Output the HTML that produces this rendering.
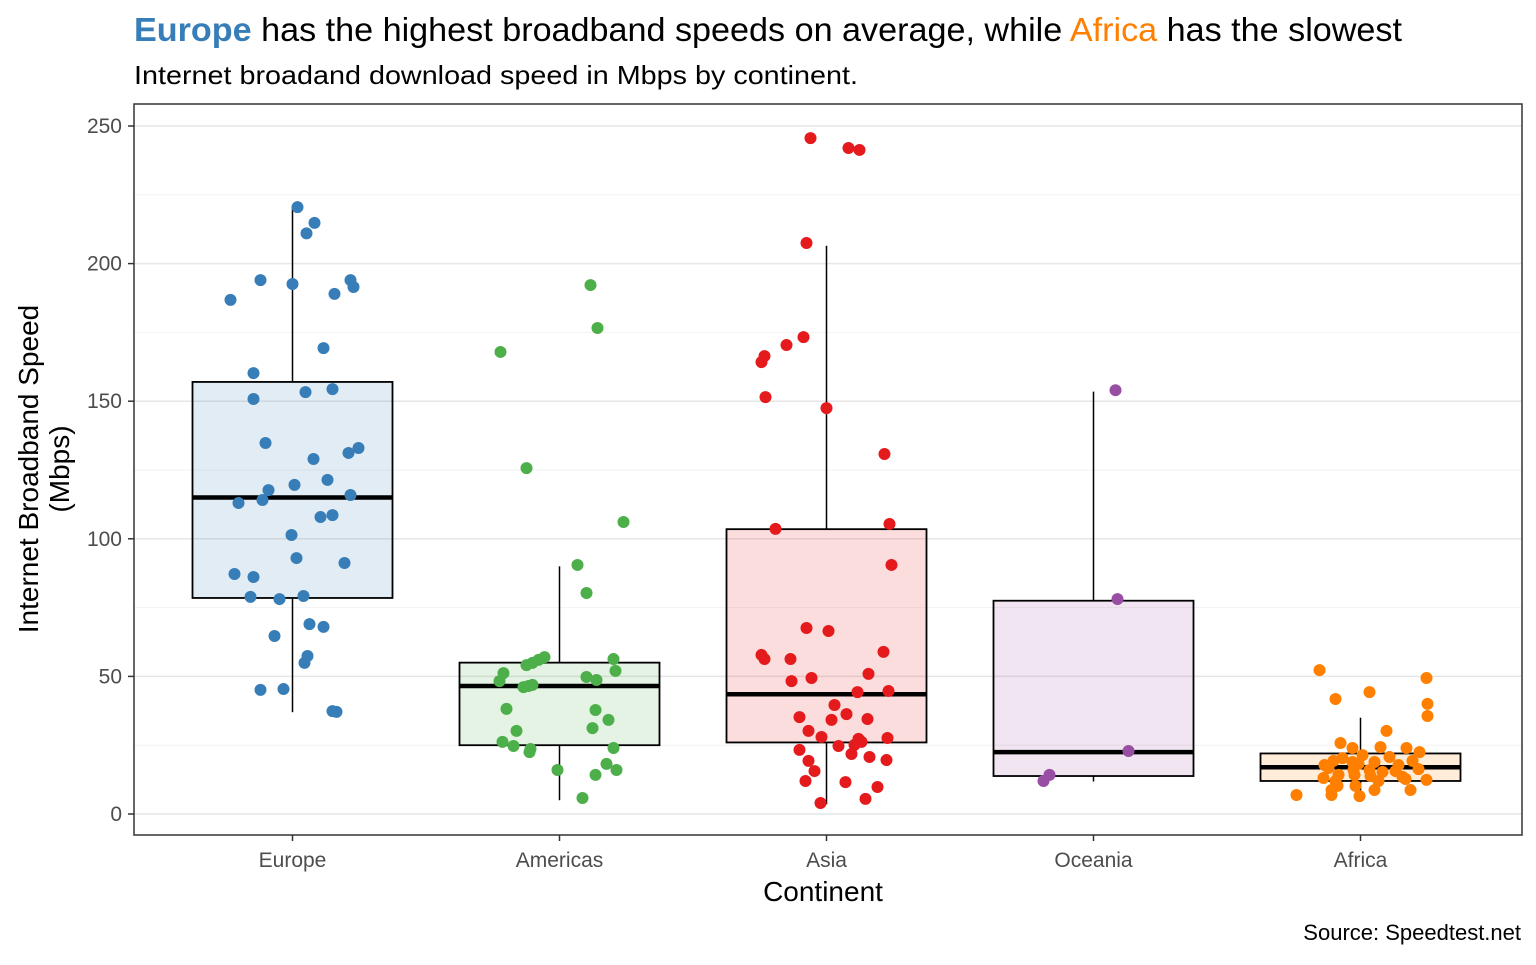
<!DOCTYPE html>
<html><head><meta charset="utf-8"><style>
body{margin:0;background:#fff;font-family:"Liberation Sans",Arial,sans-serif}
</style></head><body>
<svg id="chart" width="1536" height="960" xmlns="http://www.w3.org/2000/svg" font-family="Liberation Sans, Arial, sans-serif">
<text x="134" y="41" font-size="33" fill="#000" textLength="1268" lengthAdjust="spacingAndGlyphs"><tspan fill="#377EB8" font-weight="bold">Europe</tspan> has the highest broadband speeds on average, while <tspan fill="#FF7F00">Africa</tspan> has the slowest</text>
<text x="134" y="84" font-size="26" fill="#000" textLength="724" lengthAdjust="spacingAndGlyphs">Internet broadand download speed in Mbps by continent.</text>
<g id="grid"></g><g id="boxes"></g><g id="pts"></g><g id="axes"></g>
<rect x="134" y="104" width="1388" height="731" fill="none" stroke="#333" stroke-width="1.5"/>
<text x="823" y="901" font-size="28" text-anchor="middle">Continent</text>
<text transform="translate(38,469) rotate(-90)" font-size="28" text-anchor="middle"><tspan x="0" dy="0">Internet Broadband Speed</tspan><tspan x="0" dy="31">(Mbps)</tspan></text>
<text x="1521" y="940" font-size="22" text-anchor="end">Source: Speedtest.net</text>
</svg>
<script>
const categories=["Europe","Americas","Asia","Oceania","Africa"];
const colors=["#377EB8","#4DAF4A","#E41A1C","#984EA3","#FF7F00"];
const yTicks=[0,50,100,150,200,250];
// box stats: [lowWhisker,q1,median,q3,highWhisker]
const boxEurope=[37,78.5,115,157,220];
const boxAmericas=[5,25,46.5,55,90];
const boxAsia=[3.5,26,43.5,103.5,206.5];
const boxOceania=[11.8,13.8,22.5,77.5,153.5];
const boxAfrica=[6,12,17,22,35];
const boxes=[boxEurope,boxAmericas,boxAsia,boxOceania,boxAfrica];
const valsEurope=[220.5,214.8,211,186.8,194,192.6,189,194,191.5,169.3,160.2,154.4,153.3,150.8,134.8,133,131.2,129,121.4,117.7,119.6,113,114.1,115.9,101.4,107.9,108.6,93,91.2,87.2,86.1,78.9,78.1,79.2,69,68,64.7,57.4,54.9,45.1,45.4,37.4,37.1];
const jitEurope=[5,22,14,-62,-32,0,42,58,61,31,-39,40,13,-39,-27,66,56,21,35,-24,2,-54,-30,58,-1,28,40,4,52,-58,-39,-42,-13,11,17,31,-18,15,12,-32,-9,40,44];
const valsAmericas=[192.2,176.6,167.9,125.7,106.1,90.5,80.3,57,56,54.9,54.1,56.3,51.2,52,49.8,48.7,48.3,46.5,46.9,46.1,38.2,37.8,34.2,31.2,30.2,26.2,24.7,24,22.5,23.6,18.2,16,16,14.2,5.8];
const jitAmericas=[31,38,-59,-33,64,18,27,-15,-21,-27,-33,54,-56,56,27,37,-60,-31,-27,-36,-53,36,49,33,-43,-57,-46,54,-30,-29,47,57,-2,36,23];
const valsAsia=[245.6,242,241.3,207.5,173.3,170.4,166.4,164.2,151.5,147.5,130.8,105.4,103.6,90.5,67.6,66.5,57.8,56.3,56.3,58.9,50.9,49.4,48.3,44.3,44.7,39.6,36.3,35.2,34.5,34.2,30.2,28,27.3,27.6,26.2,25.1,23.3,24.7,21.8,20.7,19.6,19.3,15.6,12,11.6,9.8,5.5,4];
const jitAsia=[-16,22,33,-20,-23,-40,-62,-65,-61,0,58,63,-51,65,-20,2,-65,-62,-36,57,42,-15,-35,31,62,8,20,-27,41,5,-18,-5,32,61,35,28,-27,12,25,43,60,-18,-12,-21,19,51,39,-6];
const valsOceania=[154,78.1,22.9,14.2,12];
const jitOceania=[22,24,35,-44,-50];
const valsAfrica=[52.3,41.8,44.3,49.4,40,35.6,30.2,25.8,24.3,24,24,22.5,21.4,20.7,20.3,19.3,18.9,19.3,18.9,17.8,18.2,17.8,16.7,16,16,15.3,15.6,16.3,14.2,13.8,14.2,13.5,13.1,12,12,12.7,12.4,10.2,10.2,8.7,8.7,8.7,6.9,6.9,6.5];
const jitAfrica=[-41,-25,9,66,67,67,26,-20,20,-8,46,59,2,29,-18,-27,14,52,-8,-36,-2,38,-32,-7,9,22,35,58,-22,10,-6,42,-37,-25,18,45,66,-23,-5,-29,14,50,-64,-29,-1];
const values=[valsEurope,valsAmericas,valsAsia,valsOceania,valsAfrica];
const jitters=[jitEurope,jitAmericas,jitAsia,jitOceania,jitAfrica];

const NS="http://www.w3.org/2000/svg";
const X0=134,X1=1522;
const xScale=i=>292.5+i*267;
const yScale=v=>814-v*(814-126)/250;
function mk(tag,attrs,parent){const e=document.createElementNS(NS,tag);for(const k in attrs)e.setAttribute(k,attrs[k]);parent.appendChild(e);return e;}
const grid=document.getElementById('grid'),bx=document.getElementById('boxes'),pts=document.getElementById('pts'),ax=document.getElementById('axes');
for(let t=0;t<yTicks.length;t++){
  const v=yTicks[t];
  const g=mk('line',{x1:X0,x2:X1,y1:yScale(v),y2:yScale(v),stroke:'#e6e6e6','stroke-width':1.5},grid);
  
  
  if(t<yTicks.length-1){const m=mk('line',{x1:X0,x2:X1,y1:yScale(v+25),y2:yScale(v+25),stroke:'#f2f2f2','stroke-width':1},grid);
  
  }
  const tk=mk('line',{x1:X0-6,x2:X0,y1:yScale(v),y2:yScale(v),stroke:'#333','stroke-width':1.5},ax);
  
  
  const lb=mk('text',{x:X0-12,y:yScale(v)+7,'font-size':21,fill:'#4d4d4d','text-anchor':'end'},ax);lb.textContent=v;
  
  
}
const hw=100;
categories.forEach((c,i)=>{
  const x=xScale(i),b=boxes[i];
  const tk=mk('line',{x1:x,x2:x,y1:835,y2:841,stroke:'#333','stroke-width':1.5},ax);
  
  
  const lb=mk('text',{x:x,y:867,'font-size':21,fill:'#4d4d4d','text-anchor':'middle'},ax);lb.textContent=c;
  
  
  const g=mk('g',{},bx);
  
  
  mk('line',{x1:x,x2:x,y1:yScale(b[0]),y2:yScale(b[1]),stroke:'#000','stroke-width':1.5},g);
  mk('line',{x1:x,x2:x,y1:yScale(b[3]),y2:yScale(b[4]),stroke:'#000','stroke-width':1.5},g);
  mk('rect',{x:x-hw,y:yScale(b[3]),width:2*hw,height:yScale(b[1])-yScale(b[3]),fill:colors[i],'fill-opacity':0.15,stroke:'#000','stroke-width':1.8},g);
  mk('line',{x1:x-hw,x2:x+hw,y1:yScale(b[2]),y2:yScale(b[2]),stroke:'#000','stroke-width':4.5},g);
  values[i].forEach((v,j)=>{
    const p=mk('circle',{cx:x+jitters[i][j],cy:yScale(v),r:6,fill:colors[i]},pts);
    
    
  });
});
</script>
</body></html>
